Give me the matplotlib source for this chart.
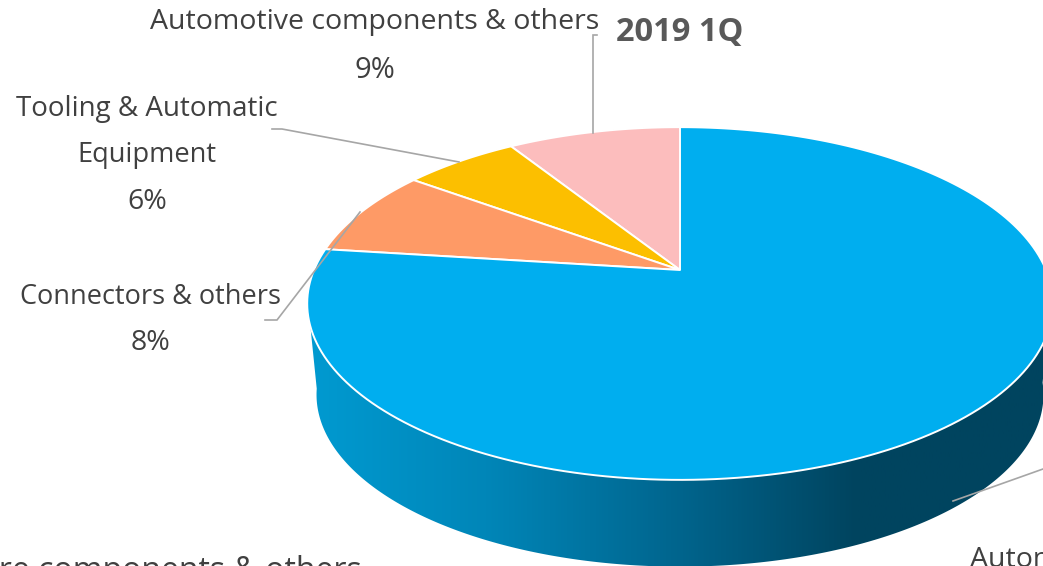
import numpy as np
import matplotlib
matplotlib.use("Agg")
import matplotlib.pyplot as plt
from matplotlib.patches import Polygon
from matplotlib.colors import LinearSegmentedColormap

categories = ["Automotive components & others", "Tooling & Automatic\nEquipment", "Connectors & others", "Automotive"]
values = [9, 6, 8, 77]
colors = ["#FCBDBD", "#FCBF00", "#FE9A66", "#00AEEF"]
title = "2019 1Q"
extra_label = "Hardware components & others"

W, H = 1043, 566
plt.rcParams['font.family'] = ['Open Sans', 'DejaVu Sans']
fig = plt.figure(figsize=(W / 100, H / 100), dpi=100)
ax = fig.add_axes([0, 0, 1, 1])
ax.set_xlim(0, W)
ax.set_ylim(H, 0)
ax.axis("off")

# perspective disc: projection of a unit circle tilted away from the viewer
CX, CY, A, B, K = 680, 270, 366, 170, 0.19
DEPTH, SHRINK = 92, 0.975


def rim(t, drop=0.0, scale=1.0):
    u, v = -np.sin(t), np.cos(t)
    w = 1 + K * v
    return np.column_stack([CX + scale * A * u / w, CY + drop - scale * B * v / w])


# side wall with a horizontal gradient, clipped to the visible band
t_side = np.radians(np.linspace(99, 263, 300))
outline = np.vstack([rim(t_side), rim(t_side[::-1], DEPTH, SHRINK)])
cmap = LinearSegmentedColormap.from_list("side", [
    (0.00, "#009BD2"), (0.25, "#0086B8"), (0.50, "#00668F"),
    (0.75, "#00445F"), (1.00, "#00445F")])
img = ax.imshow(np.linspace(0, 1, 512)[None, :], cmap=cmap, aspect="auto",
                extent=(300, 1043, H, 0), zorder=1)
clip = Polygon(outline, closed=True, transform=ax.transData, fc="none", ec="none")
ax.add_patch(clip)
img.set_clip_path(clip)
ax.set_xlim(0, W)
ax.set_ylim(H, 0)

# top face wedges, counter-clockwise from 12 o'clock
edges = np.cumsum([0] + values) / sum(values) * 2 * np.pi
for start, end, col in zip(edges[:-1], edges[1:], colors):
    t = np.linspace(start, end, 200)
    pts = np.vstack([[CX, CY], rim(t)])
    ax.add_patch(Polygon(pts, closed=True, fc=col, ec="white", lw=1.4, zorder=2, joinstyle="round"))

# leader lines
LC = "#A6A6A6"
leaders = [
    ([593, 593, 597], [133, 35, 35]),
    ([272, 282, 459], [129, 129, 162]),
    ([265, 277, 360], [320, 320, 212]),
    ([953, 1043], [501, 469]),
]
for xs, ys in leaders:
    ax.plot(xs, ys, color=LC, lw=1.2, zorder=3, solid_joinstyle="miter")

# labels
TC = "#404040"
lab = dict(color=TC, ha="center", va="center", zorder=4)
ax.text(375, 22, categories[0], fontsize=20.5, **lab)
ax.text(375, 70, f"{values[0]}%", fontsize=21, **lab)
ax.text(147, 109, "Tooling & Automatic", fontsize=20, **lab)
ax.text(147, 155, "Equipment", fontsize=19.6, **lab)
ax.text(147, 202, f"{values[1]}%", fontsize=20.5, **lab)
ax.text(150, 297, categories[2], fontsize=19.5, **lab)
ax.text(150, 343, f"{values[2]}%", fontsize=20.5, **lab)
ax.text(970, 560, categories[3], color=TC, fontsize=20.5, ha="left", va="center", zorder=4)
ax.text(362, 572, extra_label, color=TC, fontsize=23, ha="right", va="center", zorder=4)
ax.text(680, 33, title, color="#595959", fontsize=23.5, fontweight="bold", ha="center", va="center", zorder=4)

fig.savefig("out.png", dpi=100, facecolor="white")
